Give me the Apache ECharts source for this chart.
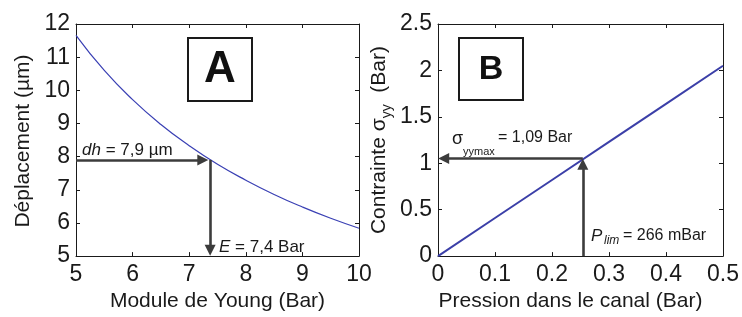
<!DOCTYPE html>
<html>
<head>
<meta charset="utf-8">
<script src="https://cdn.jsdelivr.net/npm/echarts@6/dist/echarts.min.js"></script>
<style>
html, body { margin: 0; padding: 0; background: #fff; }
#main { width: 742px; height: 317px; }
</style>
</head>
<body>
<div id="main"></div>
<script>
// panneau A : deplacement en fonction du module de Young
var youngX = [5, 5.5, 6, 6.5, 7, 7.5, 8, 8.5, 9, 9.5, 10];
var deplY = [11.66, 10.6, 9.72, 8.97, 8.33, 7.77, 7.29, 6.86, 6.48, 6.14, 5.84];
var ticksAx = [5, 6, 7, 8, 9, 10];
var ticksAy = [5, 6, 7, 8, 9, 10, 11, 12];

// panneau B : contrainte en fonction de la pression
var pressX = [0, 0.1, 0.2, 0.3, 0.4, 0.5];
var sigmaY = [0, 0.41, 0.82, 1.23, 1.64, 2.05];
var ticksBx = [0, 0.1, 0.2, 0.3, 0.4, 0.5];
var ticksBy = [0, 0.5, 1, 1.5, 2, 2.5];

// fleches : point sur la courbe, puis centre des pointes
var dhPoint = [7.37, 7.9];
var dhHeads = [7.24, 5.18];     // x de la pointe horizontale, y de la pointe verticale
var plimPoint = [0.254, 1.05];
var plimHeads = [0.01, 0.99];

var FONT = 'Liberation Sans, Arial, sans-serif';
var INK = '#1a1a1a';
var ARROW = '#3c3c3c';

function zip(xs, ys) {
    var out = [];
    for (var i = 0; i < xs.length; i++) out.push([xs[i], ys[i]]);
    return out;
}

// axe "principal" ou "miroir" (cadre facon matlab)
function axis(grid, ticks, pos, mirror) {
    return {
        type: 'value',
        gridIndex: grid,
        position: pos,
        min: ticks[0],
        max: ticks[ticks.length - 1],
        interval: ticks[1] - ticks[0],
        axisLine: { show: true, onZero: false, lineStyle: { color: INK, width: 1 } },
        axisTick: { show: true, inside: true, length: 4, lineStyle: { color: INK } },
        axisLabel: {
            show: !mirror, fontSize: 23, color: INK, fontFamily: FONT,
            margin: (pos === 'left') ? 6 : 7
        },
        splitLine: { show: false }
    };
}

var xA = axis(0, ticksAx, 'bottom', false);
xA.name = 'Module de Young (Bar)';
xA.nameLocation = 'middle';
xA.nameGap = 33;
xA.nameTextStyle = { fontSize: 21, color: INK, fontFamily: FONT };

var yA = axis(0, ticksAy, 'left', false);
yA.name = 'Déplacement (µm)';
yA.nameLocation = 'middle';
yA.nameGap = 42;
yA.nameTextStyle = { fontSize: 21, color: INK, fontFamily: FONT, padding: [0, 2, 0, 0] };

var xB = axis(1, ticksBx, 'bottom', false);
xB.name = 'Pression dans le canal (Bar)';
xB.nameLocation = 'middle';
xB.nameGap = 33;
xB.nameTextStyle = { fontSize: 21, color: INK, fontFamily: FONT, padding: [0, 20, 0, 0] };

var yB = axis(1, ticksBy, 'left', false);
yB.name = '{m|Contrainte σ}{s|yy}{m|  (Bar)}';
yB.nameLocation = 'middle';
yB.nameGap = 44;
yB.nameTextStyle = {
    fontSize: 21, color: INK, fontFamily: FONT,
    rich: {
        m: { fontSize: 21, color: INK, fontFamily: FONT },
        s: { fontSize: 14, color: INK, fontFamily: FONT, padding: [16, 0, 0, 0] }
    }
};

var arrowLine = { type: 'solid', color: ARROW, width: 2.6 };

var dom = document.getElementById('main');
var myChart = echarts.init(dom);
var option = {
    animation: false,
    backgroundColor: '#fff',
    grid: [
        { left: 76, top: 24, width: 283, height: 237 },
        { left: 438, top: 24, width: 288, height: 237 }
    ],
    xAxis: [xA, axis(0, ticksAx, 'top', true), xB, axis(1, ticksBx, 'top', true)],
    yAxis: [yA, axis(0, ticksAy, 'right', true), yB, axis(1, ticksBy, 'right', true)],
    series: [
        {
            type: 'line',
            xAxisIndex: 0,
            yAxisIndex: 0,
            data: zip(youngX, deplY),
            smooth: true,
            symbol: 'none',
            silent: true,
            lineStyle: { color: '#3a40b4', width: 1.2 },
            markLine: {
                silent: true,
                symbol: ['none', 'triangle'],
                symbolSize: [11, 11],
                label: { show: false },
                lineStyle: arrowLine,
                data: [
                    [{ coord: [ticksAx[0], dhPoint[1]] }, { coord: [dhHeads[0], dhPoint[1]] }],
                    [{ coord: dhPoint }, { coord: [dhPoint[0], dhHeads[1]] }]
                ]
            }
        },
        {
            type: 'line',
            xAxisIndex: 2,
            yAxisIndex: 2,
            data: zip(pressX, sigmaY),
            symbol: 'none',
            silent: true,
            lineStyle: { color: '#3b3fa8', width: 2 },
            markLine: {
                silent: true,
                symbol: ['none', 'triangle'],
                symbolSize: [11, 11],
                label: { show: false },
                lineStyle: arrowLine,
                data: [
                    [{ coord: plimPoint }, { coord: [plimHeads[0], plimPoint[1]] }],
                    [{ coord: [plimPoint[0], ticksBy[0]] }, { coord: [plimPoint[0], plimHeads[1]] }]
                ]
            }
        }
    ],
    graphic: [
        { type: 'rect', shape: { x: 188, y: 38, width: 64, height: 63 },
          style: { fill: '#fff', stroke: INK, lineWidth: 2 } },
        { type: 'text', x: 220, y: 70,
          style: { text: 'A', fill: '#111', font: 'bold 44px ' + FONT, align: 'center', verticalAlign: 'middle' } },
        { type: 'rect', shape: { x: 459, y: 38, width: 64, height: 62 },
          style: { fill: '#fff', stroke: INK, lineWidth: 2 } },
        { type: 'text', x: 491, y: 70,
          style: { text: 'B', fill: '#111', font: 'bold 34px ' + FONT, align: 'center', verticalAlign: 'middle' } },

        { type: 'text', x: 82, y: 150,
          style: { text: '{i|dh} = 7,9 µm', fill: INK, font: '17px ' + FONT, verticalAlign: 'middle',
                   rich: { i: { fontStyle: 'italic', fontSize: 17, fontFamily: FONT, fill: INK } } } },
        { type: 'text', x: 219, y: 247,
          style: { text: '{i|E} = 7,4 Bar', fill: INK, font: '17px ' + FONT, verticalAlign: 'middle',
                   rich: { i: { fontStyle: 'italic', fontSize: 17, fontFamily: FONT, fill: INK } } } },

        { type: 'text', x: 452, y: 139,
          style: { text: 'σ', fill: INK, font: '18px ' + FONT, verticalAlign: 'middle' } },
        { type: 'text', x: 463, y: 152,
          style: { text: 'yymax', fill: INK, font: '11px ' + FONT, verticalAlign: 'middle' } },
        { type: 'text', x: 498, y: 138,
          style: { text: '= 1,09 Bar', fill: INK, font: '16px ' + FONT, verticalAlign: 'middle' } },

        { type: 'text', x: 591, y: 236,
          style: { text: 'P', fill: INK, font: 'italic 17px ' + FONT, verticalAlign: 'middle' } },
        { type: 'text', x: 604, y: 241,
          style: { text: 'lim', fill: INK, font: 'italic 12px ' + FONT, verticalAlign: 'middle' } },
        { type: 'text', x: 623, y: 236,
          style: { text: '= 266 mBar', fill: INK, font: '16px ' + FONT, verticalAlign: 'middle' } }
    ]
};

if (option && typeof option === 'object') {
    myChart.setOption(option, true);
}
</script>
</body>
</html>
